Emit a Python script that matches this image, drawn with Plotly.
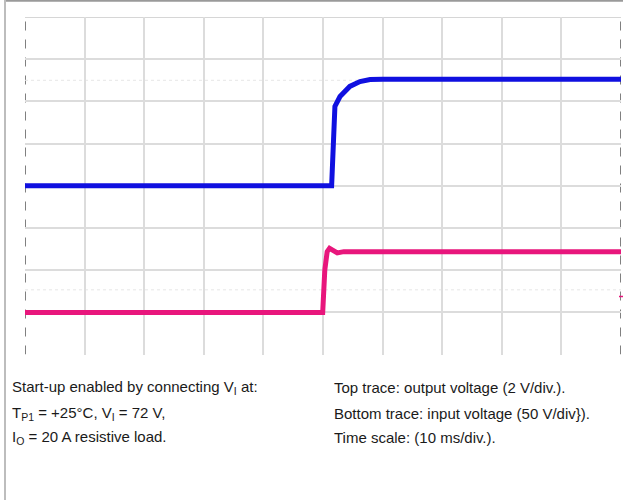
import plotly.graph_objects as go

# Time axis (ms), 10 ms/div
time_out = [0, 51.45, 52.0, 52.85, 54.5, 56.2, 57.9, 60.0, 100]
v_out = [0, 0, 3.76, 4.23, 4.71, 4.94, 5.04, 5.05, 5.05]   # V, 2 V/div

time_in = [0, 49.95, 50.3, 50.7, 51.1, 51.7, 52.4, 53.5, 100]
v_in = [0, 0, 50, 72, 76, 73, 70.5, 72, 72]                 # V, 50 V/div

left_text = [
    "Start-up enabled by connecting V<sub>I</sub> at:",
    "T<sub>P1</sub> = +25°C, V<sub>I</sub> = 72 V,",
    "I<sub>O</sub> = 20 A resistive load.",
]
right_text = [
    "Top trace: output voltage (2 V/div.).",
    "Bottom trace: input voltage (50 V/div}).",
    "Time scale: (10 ms/div.).",
]

W, H = 623, 500
x0p, x1p = 25, 621
y0p, y1p = 17, 354.6

fig = go.Figure()
fig.add_trace(go.Scatter(x=time_out, y=v_out, mode="lines",
                         line=dict(color="#1010E0", width=5), yaxis="y", hoverinfo="skip"))
fig.add_trace(go.Scatter(x=time_in, y=v_in, mode="lines",
                         line=dict(color="#E8167C", width=5), yaxis="y2", hoverinfo="skip"))

shapes = []
# graticule edges
shapes.append(dict(type="line", xref="x", yref="y", x0=0, x1=0, y0=-8, y1=8,
                   line=dict(color="#808080", width=2, dash="dash"), layer="below"))
shapes.append(dict(type="line", xref="x", yref="y", x0=100, x1=100, y0=-8, y1=8,
                   line=dict(color="#808080", width=2, dash="dash"), layer="below"))
shapes.append(dict(type="line", xref="x", yref="y", x0=0, x1=100, y0=8, y1=8,
                   line=dict(color="#c8c8c8", width=1.5), layer="below"))
# centre lines
shapes.append(dict(type="line", xref="x", yref="y", x0=50, x1=50, y0=-8, y1=8,
                   line=dict(color="#8c8c8c", width=1.5, dash="dot"), layer="below"))
shapes.append(dict(type="line", xref="x", yref="y", x0=0, x1=100, y0=0, y1=0,
                   line=dict(color="#9a9a9a", width=1.5, dash="dot"), layer="below"))
# faint reference lines
for yv in (5.0, -4.93):
    shapes.append(dict(type="line", xref="x", yref="y", x0=0, x1=100, y0=yv, y1=yv,
                       line=dict(color="#e6e6e6", width=1, dash="dot"), layer="below"))
# ground marker on the right
shapes.append(dict(type="line", xref="paper", yref="paper", x0=619/W, x1=1, y0=1-296.5/H, y1=1-296.5/H,
                   line=dict(color="#E8167C", width=1.5)))
# outer frame
shapes.append(dict(type="line", xref="paper", yref="paper", x0=4/W, x1=1, y0=1-0.8/H, y1=1-0.8/H,
                   line=dict(color="#9a9a9a", width=2)))
shapes.append(dict(type="line", xref="paper", yref="paper", x0=5/W, x1=5/W, y0=0, y1=1,
                   line=dict(color="#bdbdbd", width=2)))

annotations = []
ys = [387, 413, 437.5]
font = dict(family="Liberation Sans, Arial", size=15, color="#1a1a1a")
for i, t in enumerate(left_text):
    annotations.append(dict(text=t, xref="paper", yref="paper", x=10/W, y=1-ys[i]/H,
                            xanchor="left", yanchor="middle", showarrow=False, font=font))
for i, t in enumerate(right_text):
    annotations.append(dict(text=t, xref="paper", yref="paper", x=332/W, y=1-ys[i]/H,
                            xanchor="left", yanchor="middle", showarrow=False, font=font))

fig.update_layout(
    width=W, height=H, margin=dict(l=0, r=0, t=0, b=0),
    paper_bgcolor="white", plot_bgcolor="white", showlegend=False,
    xaxis=dict(range=[0, 100], dtick=10, domain=[x0p/W, x1p/W], showticklabels=False,
               showgrid=True, gridcolor="#dcdcdc", gridwidth=1.5, zeroline=False, showline=False,
               fixedrange=True),
    yaxis=dict(range=[-8, 8], dtick=2, domain=[1-y1p/H, 1-y0p/H], showticklabels=False,
               showgrid=True, gridcolor="#dcdcdc", gridwidth=1.5, zeroline=False, showline=False,
               fixedrange=True),
    yaxis2=dict(range=[-50, 350], overlaying="y", showticklabels=False, showgrid=False,
                zeroline=False, showline=False, fixedrange=True),
    shapes=shapes, annotations=annotations,
)
fig.write_html("out.html")
